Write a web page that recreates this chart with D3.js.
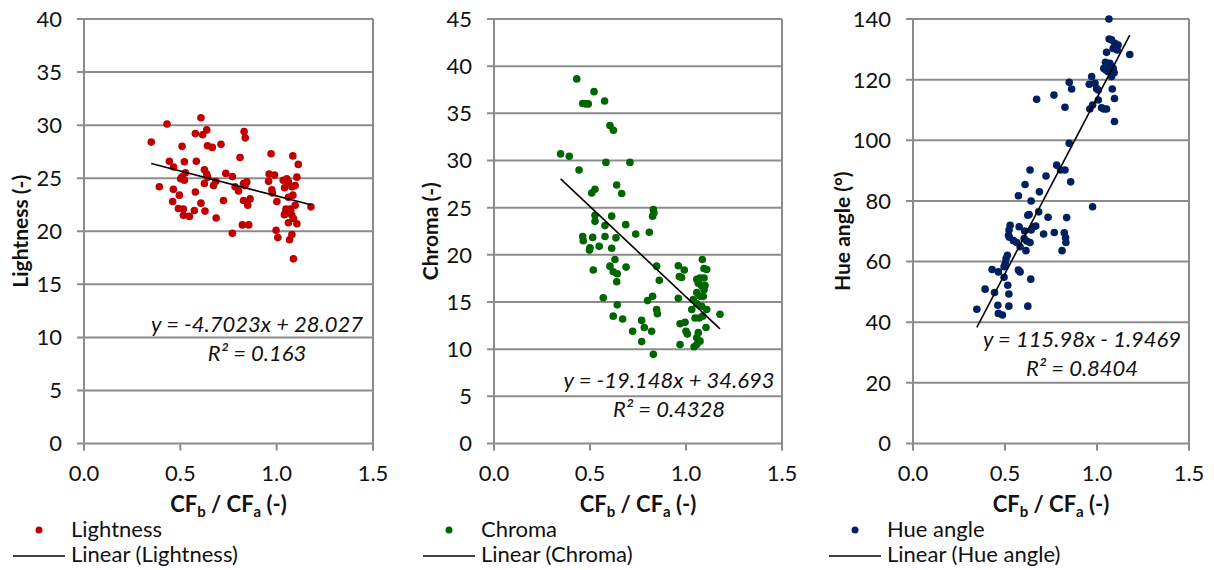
<!DOCTYPE html>
<html>
<head>
<meta charset="utf-8">
<script src="https://cdn.jsdelivr.net/npm/d3@7"></script>
<style>
  html, body { margin: 0; padding: 0; background: #ffffff; }
  svg { display: block; }
  text { font-family: Lato, "Open Sans", sans-serif; fill: #111; }
</style>
</head>
<body>
<svg id="chart" width="1214" height="570"></svg>
<script>
// ---------------- DATA ----------------
const xTickValues = [0, 0.5, 1.0, 1.5];
const lightnessTicks = [0, 5, 10, 15, 20, 25, 30, 35, 40];
const chromaTicks = [0, 5, 10, 15, 20, 25, 30, 35, 40, 45];
const hueTicks = [0, 20, 40, 60, 80, 100, 120, 140];

const seriesNames = ["Lightness", "Chroma", "Hue angle"];
const yAxisTitles = ["Lightness (-)", "Chroma (-)", "Hue angle (°)"];

// [CFb/CFa, Lightness]
const lightnessPoints = [
  [0.349,28.4],[0.391,24.2],[0.431,30.1],[0.443,26.6],[0.465,26.05],[0.464,23.95],[0.46,22.8],
  [0.495,23.4],[0.49,22.15],[0.509,28.0],[0.502,24.95],[0.508,25.1],[0.521,26.55],[0.526,25.5],
  [0.521,24.8],[0.516,22.1],[0.516,21.5],[0.547,21.4],[0.573,21.95],[0.578,29.2],[0.583,26.6],
  [0.578,23.7],[0.607,30.7],[0.616,29.1],[0.637,29.55],[0.641,28.05],[0.666,27.9],[0.607,22.65],
  [0.628,21.9],[0.625,25.8],[0.637,25.4],[0.642,25.1],[0.625,24.5],[0.672,24.3],[0.684,24.7],
  [0.686,21.25],[0.711,28.2],[0.724,22.9],[0.736,25.45],[0.77,25.15],[0.77,19.8],[0.784,24.2],
  [0.802,23.8],[0.81,26.95],[0.831,29.4],[0.837,28.8],[0.828,24.5],[0.845,24.65],[0.836,24.3],
  [0.828,22.9],[0.85,22.45],[0.862,23.05],[0.822,20.6],[0.855,20.6],
  [0.971,27.3],[0.961,25.4],[0.989,25.3],[0.958,24.7],[0.975,23.9],[0.978,23.6],[1.001,22.8],
  [0.997,20.1],[1.006,19.4],[1.034,24.8],[1.053,24.95],[1.061,24.65],[1.041,24.1],[1.084,27.1],
  [1.112,26.3],[1.105,25.1],[1.096,24.3],[1.079,24.2],[1.084,23.4],[1.061,23.2],[1.096,22.45],
  [1.07,22.1],[1.044,21.7],[1.053,21.8],[1.079,21.5],[1.061,20.8],[1.105,20.7],[1.079,19.7],
  [1.067,19.2],[1.087,17.4],[1.178,22.3],[1.048,22.1],[1.04,21.55],[1.087,21.2],[1.073,21.95]
];

// [CFb/CFa, Chroma]
const chromaPoints = [
  [0.431,38.65],[0.521,37.3],[0.576,36.3],[0.462,36.05],[0.479,36.0],[0.491,36.0],[0.604,33.7],
  [0.622,33.2],[0.347,30.7],[0.392,30.45],[0.583,29.8],[0.708,29.8],[0.443,29.0],[0.526,26.95],
  [0.509,26.55],[0.639,27.4],[0.665,26.5],[0.83,24.8],[0.833,24.45],[0.826,24.1],[0.526,24.2],
  [0.526,23.55],[0.613,24.1],[0.578,23.1],[0.686,23.2],[0.738,22.2],[0.809,22.4],[0.462,21.95],
  [0.465,21.5],[0.514,21.85],[0.578,21.95],[0.635,21.8],[0.5,20.75],[0.497,20.5],[0.548,20.9],
  [0.613,20.7],[0.517,18.4],[0.63,19.5],[0.604,18.8],[0.621,18.2],[0.642,18.0],[0.688,18.7],
  [0.639,17.15],[0.847,18.8],[0.861,17.3],[0.569,15.45],[0.642,14.7],[0.621,13.5],[0.67,13.2],
  [0.722,11.9],[0.769,13.05],[0.783,12.3],[0.769,10.8],[0.821,11.9],[0.83,9.45],[0.8,15.15],
  [0.826,15.6],[0.847,14.2],[0.851,13.75],[0.96,18.85],[0.991,18.4],[0.965,17.7],[0.977,17.6],
  [0.96,15.4],[0.969,12.7],[0.995,12.85],[1.0,11.9],[1.007,11.6],[0.969,10.5],
  [1.085,19.5],[1.094,18.55],[1.108,18.45],[1.056,17.4],[1.073,17.55],[1.094,17.55],[1.064,17.0],
  [1.082,16.7],[1.099,16.75],[1.094,16.3],[1.056,16.0],[1.073,15.6],[1.09,15.6],[1.038,15.25],
  [1.056,14.8],[1.082,14.55],[1.108,14.2],[1.03,14.2],[1.047,13.3],[1.069,13.3],[1.087,13.5],
  [1.104,12.3],[1.177,13.7],[1.064,11.75],[1.056,11.2],[1.073,10.85],[1.056,10.5],[1.042,10.25]
];

// [CFb/CFa, Hue angle]
const huePoints = [
  [1.065,140.0],[1.066,133.4],[1.079,133.1],[1.097,132.0],[1.102,130.9],[1.11,129.8],[1.088,130.3],
  [1.115,131.4],[1.178,128.3],[1.052,129.0],[1.046,125.7],[1.055,124.6],[1.07,125.4],[1.079,124.3],
  [1.088,123.7],[1.048,123.2],[1.037,123.7],[1.061,122.6],[1.093,122.3],[1.079,121.0],[0.971,121.0],
  [0.958,118.5],[0.989,118.8],[0.998,117.1],[1.007,116.6],[0.849,119.1],[0.862,116.9],[1.083,116.9],
  [0.766,114.9],[0.672,113.5],[0.826,110.9],[1.007,113.3],[1.095,113.8],[0.961,110.3],[0.976,111.6],
  [1.025,110.7],[1.037,110.3],[1.052,110.3],[1.095,106.2],[0.849,99.0],[0.781,91.8],[0.802,90.2],
  [0.826,90.2],[0.636,90.2],[0.723,88.2],[0.857,86.3],[0.609,85.4],[0.687,83.0],[0.573,81.7],
  [0.642,80.0],[0.976,78.1],[0.683,76.4],[0.624,75.3],[0.631,75.5],[0.734,74.6],[0.835,74.5],
  [0.528,72.0],[0.522,70.4],[0.519,68.7],[0.524,68.0],[0.577,71.5],[0.654,71.5],[0.667,71.7],
  [0.642,70.4],[0.607,70.1],[0.71,69.1],[0.768,69.6],[0.822,69.5],[0.829,67.9],[0.831,66.3],
  [0.546,66.9],[0.564,66.3],[0.604,67.6],[0.618,66.8],[0.636,66.3],[0.582,64.9],[0.614,63.6],
  [0.81,63.6],[0.513,62.1],[0.506,61.0],[0.501,59.4],[0.495,58.3],[0.43,57.4],[0.464,56.6],
  [0.573,57.2],[0.582,56.6],[0.495,54.8],[0.64,54.2],[0.515,52.2],[0.392,50.9],[0.443,49.8],
  [0.521,49.3],[0.347,44.3],[0.461,45.6],[0.521,45.3],[0.624,45.3],[0.464,42.9],[0.486,42.4]
];

// Linear trend lines (as printed on the chart)
const trendSlopes = [-4.7023, -19.148, 115.98];
const trendIntercepts = [28.027, 34.693, -1.9469];
const trendR2 = ["0.163", "0.4328", "0.8404"];

const seriesColors = ["#c00000", "#006600", "#002060"];

// ---------------- LAYOUT ----------------
const panels = [
  { points: lightnessPoints, ticks: lightnessTicks, left: 84,  right: 373,  eqX: 257,  eqY: 332, legendX: 39,  titleX: 28 },
  { points: chromaPoints,    ticks: chromaTicks,    left: 494, right: 782,  eqX: 669,  eqY: 388, legendX: 449, titleX: 438 },
  { points: huePoints,       ticks: hueTicks,       left: 913, right: 1189, eqX: 1082, eqY: 347, legendX: 855, titleX: 850 }
];
const plotTop = 19, plotBottom = 443.5;
const gridColor = "#8c8c8c";
const fs = "22px";

const svg = d3.select("#chart");

panels.forEach((p, i) => {
  const x = d3.scaleLinear().domain([0, 1.5]).range([p.left, p.right]);
  const y = d3.scaleLinear().domain([0, d3.max(p.ticks)]).range([plotBottom, plotTop]);
  const g = svg.append("g");

  // horizontal gridlines
  g.selectAll("line.grid").data(p.ticks).join("line")
    .attr("x1", p.left - 7).attr("x2", p.right)
    .attr("y1", d => y(d)).attr("y2", d => y(d))
    .attr("stroke", gridColor).attr("stroke-width", 2);

  // left and right border
  [p.left, p.right].forEach(xx => {
    g.append("line").attr("x1", xx).attr("x2", xx)
      .attr("y1", plotTop).attr("y2", plotBottom + 7)
      .attr("stroke", gridColor).attr("stroke-width", 2);
  });

  // y axis tick labels
  g.selectAll("text.ytick").data(p.ticks).join("text")
    .attr("x", p.left - 22).attr("y", d => y(d))
    .attr("dy", "0.36em")
    .attr("text-anchor", "end")
    .style("font-size", fs)
    .text(d => d);

  // x axis ticks and labels
  g.selectAll("line.xtick").data(xTickValues).join("line")
    .attr("x1", d => x(d)).attr("x2", d => x(d))
    .attr("y1", plotBottom).attr("y2", plotBottom + 7)
    .attr("stroke", gridColor).attr("stroke-width", 2);
  g.selectAll("text.xtick").data(xTickValues).join("text")
    .attr("x", d => x(d)).attr("y", 481)
    .attr("text-anchor", "middle")
    .style("font-size", fs)
    .text(d => d3.format(".1f")(d));

  // x axis title with subscripts
  const xt = g.append("text")
    .attr("x", (p.left + p.right) / 2).attr("y", 512)
    .attr("text-anchor", "middle")
    .style("font-size", "22px").style("font-weight", "bold");
  xt.append("tspan").text("CF");
  xt.append("tspan").attr("dy", 5).style("font-size", "15px").text("b");
  xt.append("tspan").attr("dy", -5).text(" / CF");
  xt.append("tspan").attr("dy", 5).style("font-size", "15px").text("a");
  xt.append("tspan").attr("dy", -5).text(" (-)");

  // y axis title
  g.append("text")
    .attr("transform", `translate(${p.titleX},${(plotTop + plotBottom) / 2}) rotate(-90)`)
    .attr("text-anchor", "middle")
    .style("font-size", "21px").style("font-weight", "bold")
    .text(yAxisTitles[i]);

  // points
  g.selectAll("circle.pt").data(p.points).join("circle")
    .attr("cx", d => x(d[0])).attr("cy", d => y(d[1]))
    .attr("r", 3.8)
    .attr("fill", seriesColors[i]);

  // trend line
  const ext = d3.extent(p.points, d => d[0]);
  const m = trendSlopes[i], b = trendIntercepts[i];
  g.append("line")
    .attr("x1", x(ext[0])).attr("y1", y(m * ext[0] + b))
    .attr("x2", x(ext[1])).attr("y2", y(m * ext[1] + b))
    .attr("stroke", "#000").attr("stroke-width", 1.6);

  // equation labels
  const eq = `y = ${m}x ${b < 0 ? "-" : "+"} ${Math.abs(b)}`;
  g.append("text").attr("x", p.eqX).attr("y", p.eqY)
    .attr("text-anchor", "middle")
    .style("font-size", fs).style("font-style", "italic")
    .text(eq);
  g.append("text").attr("x", p.eqX).attr("y", p.eqY + 29)
    .attr("text-anchor", "middle")
    .style("font-size", fs).style("font-style", "italic")
    .text(`R² = ${trendR2[i]}`);

  // legend
  g.append("circle").attr("cx", p.legendX).attr("cy", 530).attr("r", 3.5).attr("fill", seriesColors[i]);
  g.append("text").attr("x", p.legendX + 32).attr("y", 537)
    .style("font-size", fs).text(seriesNames[i]);
  g.append("line").attr("x1", p.legendX - 26).attr("x2", p.legendX + 26)
    .attr("y1", 556).attr("y2", 556).attr("stroke", "#000").attr("stroke-width", 1.6);
  g.append("text").attr("x", p.legendX + 32).attr("y", 562)
    .style("font-size", fs).text(`Linear (${seriesNames[i]})`);
});
</script>
</body>
</html>
